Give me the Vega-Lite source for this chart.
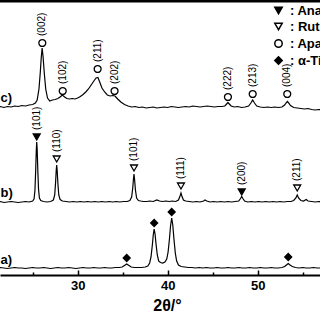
{
  "$schema": "https://vega.github.io/schema/vega-lite/v6.json",
  "width": 320,
  "height": 274,
  "autosize": {"type": "none"},
  "padding": {"left": 0, "right": 0, "top": 1, "bottom": 45},
  "background": "white",
  "config": {"view": {"stroke": null}, "font": "Liberation Sans"},
  "datasets": {
    "traces": [
      {"s":"c","t":21.0,"v":168},{"s":"c","t":21.4,"v":168.5},{"s":"c","t":21.8,"v":167.5},{"s":"c","t":22.2,"v":168.5},{"s":"c","t":22.6,"v":168},{"s":"c","t":23.0,"v":169},{"s":"c","t":23.4,"v":168.5},{"s":"c","t":23.8,"v":169.5},{"s":"c","t":24.2,"v":169},{"s":"c","t":24.6,"v":170},{"s":"c","t":25.0,"v":170.5},{"s":"c","t":25.3,"v":172},{"s":"c","t":25.5,"v":175},{"s":"c","t":25.7,"v":186},{"s":"c","t":25.85,"v":203},{"s":"c","t":25.95,"v":217},{"s":"c","t":26.05,"v":227},{"s":"c","t":26.15,"v":219},{"s":"c","t":26.3,"v":201},{"s":"c","t":26.45,"v":186},{"s":"c","t":26.65,"v":177},{"s":"c","t":26.9,"v":174},{"s":"c","t":27.2,"v":175},{"s":"c","t":27.5,"v":175.5},{"s":"c","t":27.8,"v":176.5},{"s":"c","t":28.05,"v":178},{"s":"c","t":28.3,"v":180},{"s":"c","t":28.55,"v":178},{"s":"c","t":28.8,"v":176.5},{"s":"c","t":29.1,"v":176},{"s":"c","t":29.4,"v":176.5},{"s":"c","t":29.7,"v":176},{"s":"c","t":30.0,"v":177},{"s":"c","t":30.3,"v":178.5},{"s":"c","t":30.6,"v":180.5},{"s":"c","t":30.9,"v":183},{"s":"c","t":31.2,"v":186},{"s":"c","t":31.5,"v":190},{"s":"c","t":31.8,"v":194},{"s":"c","t":32.05,"v":197},{"s":"c","t":32.25,"v":197.5},{"s":"c","t":32.45,"v":193},{"s":"c","t":32.7,"v":187},{"s":"c","t":33.0,"v":183},{"s":"c","t":33.3,"v":180},{"s":"c","t":33.6,"v":179},{"s":"c","t":33.9,"v":179.5},{"s":"c","t":34.15,"v":179},{"s":"c","t":34.45,"v":176},{"s":"c","t":34.8,"v":173},{"s":"c","t":35.2,"v":170.5},{"s":"c","t":35.6,"v":169},{"s":"c","t":36.0,"v":168},{"s":"c","t":36.4,"v":168.5},{"s":"c","t":36.8,"v":167.5},{"s":"c","t":37.2,"v":168},{"s":"c","t":37.6,"v":167},{"s":"c","t":38.0,"v":167.5},{"s":"c","t":38.4,"v":168},{"s":"c","t":38.8,"v":167},{"s":"c","t":39.2,"v":167.5},{"s":"c","t":39.6,"v":168},{"s":"c","t":40.0,"v":167.5},{"s":"c","t":40.4,"v":168.5},{"s":"c","t":40.8,"v":168},{"s":"c","t":41.2,"v":167.5},{"s":"c","t":41.6,"v":168},{"s":"c","t":42.0,"v":168.5},{"s":"c","t":42.4,"v":168},{"s":"c","t":42.8,"v":169},{"s":"c","t":43.2,"v":168.5},{"s":"c","t":43.6,"v":168},{"s":"c","t":44.0,"v":168.5},{"s":"c","t":44.4,"v":169},{"s":"c","t":44.8,"v":168.5},{"s":"c","t":45.2,"v":168},{"s":"c","t":45.6,"v":168.5},{"s":"c","t":46.0,"v":168.5},{"s":"c","t":46.35,"v":169},{"s":"c","t":46.55,"v":171},{"s":"c","t":46.7,"v":172.5},{"s":"c","t":46.85,"v":171},{"s":"c","t":47.05,"v":169},{"s":"c","t":47.4,"v":168},{"s":"c","t":47.8,"v":168.5},{"s":"c","t":48.2,"v":167.5},{"s":"c","t":48.6,"v":168},{"s":"c","t":49.0,"v":169},{"s":"c","t":49.25,"v":172},{"s":"c","t":49.45,"v":175},{"s":"c","t":49.65,"v":172},{"s":"c","t":49.9,"v":169},{"s":"c","t":50.3,"v":168},{"s":"c","t":50.7,"v":167.5},{"s":"c","t":51.1,"v":168},{"s":"c","t":51.5,"v":167.5},{"s":"c","t":51.9,"v":168},{"s":"c","t":52.3,"v":167.5},{"s":"c","t":52.7,"v":168},{"s":"c","t":53.0,"v":170},{"s":"c","t":53.15,"v":172},{"s":"c","t":53.3,"v":173.5},{"s":"c","t":53.45,"v":172},{"s":"c","t":53.65,"v":169.5},{"s":"c","t":54.0,"v":167.5},{"s":"c","t":54.4,"v":167},{"s":"c","t":54.8,"v":166.5},{"s":"c","t":55.2,"v":166},{"s":"c","t":55.6,"v":166.5},{"s":"c","t":56.0,"v":165.5},{"s":"c","t":56.4,"v":165},{"s":"c","t":56.8,"v":165.5},{"s":"c","t":57.2,"v":165},
      {"s":"b","t":21.0,"v":73},{"s":"b","t":21.4,"v":73.5},{"s":"b","t":21.8,"v":72.5},{"s":"b","t":22.2,"v":73},{"s":"b","t":22.6,"v":73.5},{"s":"b","t":23.0,"v":73},{"s":"b","t":23.4,"v":72.5},{"s":"b","t":23.8,"v":73},{"s":"b","t":24.2,"v":73.5},{"s":"b","t":24.6,"v":73},{"s":"b","t":25.0,"v":74},{"s":"b","t":25.15,"v":76},{"s":"b","t":25.25,"v":84},{"s":"b","t":25.33,"v":103},{"s":"b","t":25.4,"v":124},{"s":"b","t":25.45,"v":133},{"s":"b","t":25.5,"v":126},{"s":"b","t":25.57,"v":105},{"s":"b","t":25.65,"v":86},{"s":"b","t":25.75,"v":77},{"s":"b","t":25.9,"v":74.5},{"s":"b","t":26.2,"v":73.5},{"s":"b","t":26.6,"v":73},{"s":"b","t":27.0,"v":73.5},{"s":"b","t":27.3,"v":75},{"s":"b","t":27.45,"v":80},{"s":"b","t":27.55,"v":93},{"s":"b","t":27.62,"v":105},{"s":"b","t":27.67,"v":110},{"s":"b","t":27.72,"v":105},{"s":"b","t":27.8,"v":92},{"s":"b","t":27.9,"v":80},{"s":"b","t":28.05,"v":75.5},{"s":"b","t":28.3,"v":74},{"s":"b","t":28.7,"v":73.5},{"s":"b","t":29.1,"v":73},{"s":"b","t":29.5,"v":73.5},{"s":"b","t":29.9,"v":73},{"s":"b","t":30.3,"v":73.5},{"s":"b","t":30.7,"v":73},{"s":"b","t":31.1,"v":73.5},{"s":"b","t":31.5,"v":73},{"s":"b","t":31.9,"v":73.5},{"s":"b","t":32.3,"v":73},{"s":"b","t":32.7,"v":73.5},{"s":"b","t":33.1,"v":73},{"s":"b","t":33.5,"v":73.5},{"s":"b","t":33.9,"v":73},{"s":"b","t":34.3,"v":73.5},{"s":"b","t":34.7,"v":73},{"s":"b","t":35.1,"v":73.5},{"s":"b","t":35.5,"v":73.5},{"s":"b","t":35.8,"v":74.5},{"s":"b","t":36.0,"v":78},{"s":"b","t":36.12,"v":87},{"s":"b","t":36.2,"v":96},{"s":"b","t":36.26,"v":101},{"s":"b","t":36.32,"v":96},{"s":"b","t":36.42,"v":85},{"s":"b","t":36.55,"v":77},{"s":"b","t":36.75,"v":74.5},{"s":"b","t":37.0,"v":74},{"s":"b","t":37.3,"v":73.5},{"s":"b","t":37.7,"v":73.5},{"s":"b","t":38.0,"v":74},{"s":"b","t":38.4,"v":73.5},{"s":"b","t":38.8,"v":75},{"s":"b","t":39.1,"v":74},{"s":"b","t":39.4,"v":73.5},{"s":"b","t":39.8,"v":74},{"s":"b","t":40.2,"v":73.5},{"s":"b","t":40.5,"v":74},{"s":"b","t":40.9,"v":73.5},{"s":"b","t":41.2,"v":75},{"s":"b","t":41.38,"v":79},{"s":"b","t":41.48,"v":82},{"s":"b","t":41.58,"v":79},{"s":"b","t":41.75,"v":75},{"s":"b","t":42.0,"v":74},{"s":"b","t":42.4,"v":73.5},{"s":"b","t":42.8,"v":73},{"s":"b","t":43.2,"v":73.5},{"s":"b","t":43.6,"v":73},{"s":"b","t":44.0,"v":74},{"s":"b","t":44.15,"v":75},{"s":"b","t":44.35,"v":74},{"s":"b","t":44.7,"v":73},{"s":"b","t":45.1,"v":73.5},{"s":"b","t":45.5,"v":73},{"s":"b","t":45.9,"v":73.5},{"s":"b","t":46.3,"v":73},{"s":"b","t":46.7,"v":73.5},{"s":"b","t":47.1,"v":73},{"s":"b","t":47.5,"v":73.5},{"s":"b","t":47.9,"v":74},{"s":"b","t":48.1,"v":76.5},{"s":"b","t":48.23,"v":78.5},{"s":"b","t":48.36,"v":76.5},{"s":"b","t":48.55,"v":74},{"s":"b","t":48.9,"v":73},{"s":"b","t":49.3,"v":73.5},{"s":"b","t":49.7,"v":73},{"s":"b","t":50.1,"v":73.5},{"s":"b","t":50.5,"v":73},{"s":"b","t":50.9,"v":73.5},{"s":"b","t":51.3,"v":73},{"s":"b","t":51.7,"v":73.5},{"s":"b","t":52.1,"v":73},{"s":"b","t":52.5,"v":73.5},{"s":"b","t":52.9,"v":73},{"s":"b","t":53.3,"v":73.5},{"s":"b","t":53.7,"v":73.5},{"s":"b","t":54.0,"v":74.5},{"s":"b","t":54.25,"v":77},{"s":"b","t":54.4,"v":80},{"s":"b","t":54.55,"v":77},{"s":"b","t":54.8,"v":74.5},{"s":"b","t":55.1,"v":74},{"s":"b","t":55.4,"v":75.5},{"s":"b","t":55.6,"v":74},{"s":"b","t":56.0,"v":73.5},{"s":"b","t":56.4,"v":73},{"s":"b","t":56.8,"v":73.5},{"s":"b","t":57.2,"v":73},
      {"s":"a","t":21.0,"v":7},{"s":"a","t":21.4,"v":7.5},{"s":"a","t":21.8,"v":7},{"s":"a","t":22.2,"v":6.5},{"s":"a","t":22.6,"v":7},{"s":"a","t":23.0,"v":7.5},{"s":"a","t":23.4,"v":7},{"s":"a","t":23.8,"v":7},{"s":"a","t":24.2,"v":6.5},{"s":"a","t":24.6,"v":7},{"s":"a","t":25.0,"v":7.5},{"s":"a","t":25.4,"v":7},{"s":"a","t":25.8,"v":7},{"s":"a","t":26.2,"v":7.5},{"s":"a","t":26.6,"v":7},{"s":"a","t":27.0,"v":6.5},{"s":"a","t":27.4,"v":7},{"s":"a","t":27.8,"v":7.5},{"s":"a","t":28.2,"v":7},{"s":"a","t":28.6,"v":7},{"s":"a","t":29.0,"v":7.5},{"s":"a","t":29.4,"v":7},{"s":"a","t":29.8,"v":6.5},{"s":"a","t":30.2,"v":7},{"s":"a","t":30.6,"v":7.5},{"s":"a","t":31.0,"v":7},{"s":"a","t":31.4,"v":7},{"s":"a","t":31.8,"v":7.5},{"s":"a","t":32.2,"v":7},{"s":"a","t":32.6,"v":7},{"s":"a","t":33.0,"v":7.5},{"s":"a","t":33.4,"v":7},{"s":"a","t":33.8,"v":7},{"s":"a","t":34.2,"v":7.5},{"s":"a","t":34.6,"v":7.5},{"s":"a","t":34.95,"v":8},{"s":"a","t":35.2,"v":9.5},{"s":"a","t":35.45,"v":11},{"s":"a","t":35.7,"v":9.5},{"s":"a","t":35.95,"v":8},{"s":"a","t":36.3,"v":7.5},{"s":"a","t":36.7,"v":7.5},{"s":"a","t":37.1,"v":7.5},{"s":"a","t":37.5,"v":8},{"s":"a","t":37.8,"v":9},{"s":"a","t":38.0,"v":12},{"s":"a","t":38.15,"v":18},{"s":"a","t":38.3,"v":30},{"s":"a","t":38.4,"v":40},{"s":"a","t":38.5,"v":46},{"s":"a","t":38.6,"v":41},{"s":"a","t":38.72,"v":30},{"s":"a","t":38.85,"v":20},{"s":"a","t":39.0,"v":14},{"s":"a","t":39.2,"v":12.5},{"s":"a","t":39.45,"v":12},{"s":"a","t":39.7,"v":13},{"s":"a","t":39.9,"v":16},{"s":"a","t":40.05,"v":23},{"s":"a","t":40.2,"v":36},{"s":"a","t":40.32,"v":49},{"s":"a","t":40.45,"v":57},{"s":"a","t":40.57,"v":50},{"s":"a","t":40.7,"v":36},{"s":"a","t":40.85,"v":22},{"s":"a","t":41.0,"v":14},{"s":"a","t":41.2,"v":10},{"s":"a","t":41.5,"v":8.5},{"s":"a","t":41.9,"v":8},{"s":"a","t":42.3,"v":7.5},{"s":"a","t":42.7,"v":7.5},{"s":"a","t":43.1,"v":7},{"s":"a","t":43.5,"v":7.5},{"s":"a","t":43.9,"v":7},{"s":"a","t":44.3,"v":7.5},{"s":"a","t":44.7,"v":7},{"s":"a","t":45.1,"v":7},{"s":"a","t":45.5,"v":7.5},{"s":"a","t":45.9,"v":7},{"s":"a","t":46.3,"v":7},{"s":"a","t":46.7,"v":7.5},{"s":"a","t":47.1,"v":7},{"s":"a","t":47.5,"v":7},{"s":"a","t":47.9,"v":7.5},{"s":"a","t":48.3,"v":7},{"s":"a","t":48.7,"v":7},{"s":"a","t":49.1,"v":7.5},{"s":"a","t":49.5,"v":7},{"s":"a","t":49.9,"v":7},{"s":"a","t":50.3,"v":7.5},{"s":"a","t":50.7,"v":7},{"s":"a","t":51.1,"v":7},{"s":"a","t":51.5,"v":7.5},{"s":"a","t":51.9,"v":7},{"s":"a","t":52.3,"v":7},{"s":"a","t":52.7,"v":7.5},{"s":"a","t":53.0,"v":8.5},{"s":"a","t":53.2,"v":10},{"s":"a","t":53.4,"v":11.5},{"s":"a","t":53.6,"v":10},{"s":"a","t":53.85,"v":8.5},{"s":"a","t":54.2,"v":7.5},{"s":"a","t":54.6,"v":7},{"s":"a","t":55.0,"v":7.5},{"s":"a","t":55.4,"v":7},{"s":"a","t":55.8,"v":7},{"s":"a","t":56.2,"v":7.5},{"s":"a","t":56.6,"v":7},{"s":"a","t":57.0,"v":7},{"s":"a","t":57.2,"v":7.5}
    ],
    "peaks": [
      {"s":"c","t":26.07,"v":232,"phase":"Apatite","hkl":"(002)"},
      {"s":"c","t":28.34,"v":184,"phase":"Apatite","hkl":"(102)"},
      {"s":"c","t":32.22,"v":206,"phase":"Apatite","hkl":"(211)"},
      {"s":"c","t":34.1,"v":184,"phase":"Apatite","hkl":"(202)"},
      {"s":"c","t":46.7,"v":178,"phase":"Apatite","hkl":"(222)"},
      {"s":"c","t":49.45,"v":181,"phase":"Apatite","hkl":"(213)"},
      {"s":"c","t":53.29,"v":181,"phase":"Apatite","hkl":"(004)"},
      {"s":"b","t":25.45,"v":138,"phase":"Anatase","hkl":"(101)"},
      {"s":"b","t":27.67,"v":116,"phase":"Rutile","hkl":"(110)"},
      {"s":"b","t":36.26,"v":107,"phase":"Rutile","hkl":"(101)"},
      {"s":"b","t":41.48,"v":89,"phase":"Rutile","hkl":"(111)"},
      {"s":"b","t":48.23,"v":83,"phase":"Anatase","hkl":"(200)"},
      {"s":"b","t":54.4,"v":87,"phase":"Rutile","hkl":"(211)"},
      {"s":"a","t":35.45,"v":17,"phase":"α-Ti","hkl":""},
      {"s":"a","t":38.5,"v":52,"phase":"α-Ti","hkl":""},
      {"s":"a","t":40.45,"v":63,"phase":"α-Ti","hkl":""},
      {"s":"a","t":53.4,"v":18,"phase":"α-Ti","hkl":""}
    ],
    "tags": [
      {"name":"c)","t":22.72,"v":177},
      {"name":"b)","t":22.8,"v":82},
      {"name":"a)","t":22.72,"v":15}
    ]
  },
  "layer": [
    {
      "data": {"name": "traces"},
      "mark": {"type": "line", "clip": true, "color": "black", "strokeWidth": 1.2},
      "encoding": {
        "x": {"field": "t", "type": "quantitative",
          "scale": {"domain": [21.37, 56.93], "nice": false, "zero": false},
          "axis": {"orient": "bottom", "values": [25,30,35,40,45,50,55], "grid": false,
            "labelExpr": "datum.value % 10 === 0 ? datum.label : ''",
            "tickSize": {"condition": {"test": "datum.value % 10 === 0", "value": -5}, "value": -3},
            "tickWidth": 1.5, "tickColor": "black", "domainColor": "black", "domainWidth": 2,
            "labelFont": "Liberation Sans", "labelFontWeight": "bold", "labelFontSize": 13, "labelColor": "black", "labelPadding": 9,
            "title": "2θ/°", "titleFont": "Liberation Sans", "titleFontWeight": "bold", "titleFontSize": 16, "titleColor": "black", "titleX": 167, "titlePadding": 5}},
        "y": {"field": "v", "type": "quantitative", "scale": {"domain": [0, 274], "nice": false, "zero": false}, "axis": null},
        "detail": {"field": "s"}
      }
    },
    {
      "data": {"values": [{"edge": "top"}]},
      "mark": {"type": "rule", "color": "black", "strokeWidth": 3},
      "encoding": {"y": {"datum": 274, "type": "quantitative"}}
    },
    {
      "data": {"name": "peaks"},
      "mark": {"type": "point", "stroke": "black", "strokeWidth": 1.3, "opacity": 1, "size": 48},
      "encoding": {
        "x": {"field": "t", "type": "quantitative", "axis": null},
        "y": {"field": "v", "type": "quantitative"},
        "shape": {"field": "phase", "type": "nominal",
          "scale": {"domain": ["Anatase","Rutile","Apatite","α-Ti"], "range": ["triangle-down","triangle-down","circle","diamond"]},
          "legend": {"orient": "none", "legendX": 272, "legendY": 3, "title": null,
            "labelExpr": "': ' + datum.label", "labelFont": "Liberation Sans", "labelFontWeight": "bold", "labelFontSize": 13, "labelColor": "black",
            "symbolSize": 55, "rowPadding": 2, "labelOffset": 5,
            "encode": {"symbols": {"update": {"stroke": {"value": "black"}, "strokeWidth": {"value": 1.3}}}}}},
        "fill": {"field": "phase", "type": "nominal",
          "scale": {"domain": ["Anatase","Rutile","Apatite","α-Ti"], "range": ["black","white","white","black"]},
          "legend": {"orient": "none", "legendX": 272, "legendY": 3, "title": null,
            "labelExpr": "': ' + datum.label", "labelFont": "Liberation Sans", "labelFontWeight": "bold", "labelFontSize": 13, "labelColor": "black",
            "symbolSize": 55, "rowPadding": 2, "labelOffset": 5,
            "encode": {"symbols": {"update": {"stroke": {"value": "black"}, "strokeWidth": {"value": 1.3}}}}}}
      }
    },
    {
      "data": {"name": "peaks"},
      "mark": {"type": "text", "angle": 270, "align": "left", "baseline": "middle", "yOffset": -7, "fontSize": 10, "font": "Liberation Sans", "color": "black"},
      "encoding": {
        "x": {"field": "t", "type": "quantitative", "axis": null},
        "y": {"field": "v", "type": "quantitative"},
        "text": {"field": "hkl"}
      }
    },
    {
      "data": {"name": "tags"},
      "mark": {"type": "text", "align": "right", "baseline": "middle", "fontSize": 13, "fontWeight": "bold", "font": "Liberation Sans", "color": "black"},
      "encoding": {
        "x": {"field": "t", "type": "quantitative", "axis": null},
        "y": {"field": "v", "type": "quantitative"},
        "text": {"field": "name"}
      }
    }
  ],
  "resolve": {"axis": {"x": "independent"}}
}
